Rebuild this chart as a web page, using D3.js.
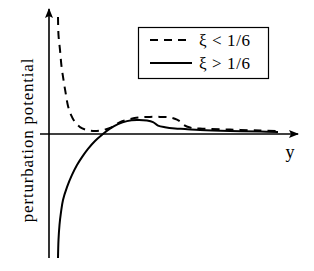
<!DOCTYPE html>
<html>
<head>
<meta charset="utf-8">
<script src="https://cdn.jsdelivr.net/npm/d3@7"></script>
<style>
  body { margin: 0; background: #fff; }
  svg { display: block; font-family: "Liberation Serif", "Times New Roman", serif; }
</style>
</head>
<body>
<svg id="chart" width="314" height="271"></svg>
<script>
// Curves (y, perturbation potential)
let dashedY = [0.36, 0.38, 0.44, 0.50, 0.58, 0.66, 0.76, 0.88, 1.04, 1.24, 1.52, 1.84, 2.16, 2.52, 2.84, 3.24, 3.64, 4.04, 4.44, 4.84, 5.12, 5.28, 5.40, 5.64, 6.04, 7.24, 8.44, 9.16];
let dashedV = [4.72, 3.99, 3.39, 2.74, 2.18, 1.69, 1.13, 0.77, 0.48, 0.28, 0.16, 0.12, 0.16, 0.28, 0.48, 0.60, 0.67, 0.69, 0.69, 0.67, 0.58, 0.48, 0.36, 0.26, 0.22, 0.18, 0.14, 0.12];

let solidY = [0.36, 0.38, 0.42, 0.48, 0.56, 0.72, 0.92, 1.12, 1.32, 1.56, 1.84, 2.16, 2.44, 2.76, 3.12, 3.52, 3.92, 4.16, 4.36, 4.64, 5.04, 5.44, 6.04, 7.24, 8.44, 9.16];
let solidV = [-5.0, -4.27, -3.67, -3.15, -2.66, -2.14, -1.65, -1.25, -0.93, -0.60, -0.28, 0, 0.22, 0.40, 0.52, 0.56, 0.54, 0.48, 0.34, 0.27, 0.22, 0.20, 0.16, 0.12, 0.10, 0.08];

let legendLabels = ["ξ < 1/6", "ξ > 1/6"];

let svg = d3.select("svg#chart");

// Scales
const xScale = d3.scaleLinear().domain([0, 10]).range([49, 299]);
const yScale = d3.scaleLinear().domain([-5, 5]).range([258, 10]);

// Arrow marker
svg.append("defs").append("marker")
  .attr("id", "arrow")
  .attr("viewBox", "0 0 10 10")
  .attr("refX", 9)
  .attr("refY", 5)
  .attr("markerWidth", 10)
  .attr("markerHeight", 10)
  .attr("markerUnits", "userSpaceOnUse")
  .attr("orient", "auto")
  .append("path")
  .attr("d", "M0,1 L10,5 L0,9 L2,5 Z")
  .attr("fill", "#000");

// Axes
svg.append("line")
  .attr("x1", xScale(-0.36)).attr("y1", yScale(0))
  .attr("x2", xScale(9.96)).attr("y2", yScale(0))
  .attr("stroke", "#000").attr("stroke-width", 1.6)
  .attr("marker-end", "url(#arrow)");

svg.append("line")
  .attr("x1", xScale(0)).attr("y1", yScale(-5))
  .attr("x2", xScale(0)).attr("y2", yScale(5.04))
  .attr("stroke", "#000").attr("stroke-width", 1.6)
  .attr("marker-end", "url(#arrow)");

// Axis labels
svg.append("text")
  .attr("x", xScale(9.64))
  .attr("y", yScale(0) + 24)
  .attr("text-anchor", "middle")
  .attr("font-size", "18px")
  .text("y");

let xCent = 27;
let yCent = 140;
svg.append("text")
  .attr("x", xCent)
  .attr("y", yCent)
  .attr("text-anchor", "middle")
  .attr("dominant-baseline", "central")
  .attr("font-size", "17px")
  .attr("letter-spacing", "0.8px")
  .attr("transform", "rotate(-90," + xCent + "," + yCent + ")")
  .text("perturbation potential");

// Curves
let line = d3.line()
  .x(d => xScale(d[0]))
  .y(d => yScale(d[1]))
  .curve(d3.curveCatmullRom);

svg.append("path")
  .attr("d", line(dashedY.map((d, i) => [d, dashedV[i]])))
  .attr("fill", "none")
  .attr("stroke", "#000")
  .attr("stroke-width", 2)
  .attr("stroke-dasharray", "8,6");

svg.append("path")
  .attr("d", line(solidY.map((d, i) => [d, solidV[i]])))
  .attr("fill", "none")
  .attr("stroke", "#000")
  .attr("stroke-width", 2);

// Legend
let legend = svg.append("g");
legend.append("rect")
  .attr("x", 138.5).attr("y", 27.5)
  .attr("width", 130).attr("height", 51)
  .attr("fill", "#fff")
  .attr("stroke", "#000").attr("stroke-width", 1.2);

legendLabels.forEach((d, i) => {
  let ly = 40 + i * 23;
  legend.append("line")
    .attr("x1", 150).attr("x2", 192)
    .attr("y1", ly).attr("y2", ly)
    .attr("stroke", "#000").attr("stroke-width", 2)
    .attr("stroke-dasharray", i == 0 ? "8,6" : null);
  legend.append("text")
    .attr("x", 199)
    .attr("y", ly + 6)
    .attr("font-size", "17px")
    .attr("letter-spacing", "0.6px")
    .text(d);
});
</script>
</body>
</html>
